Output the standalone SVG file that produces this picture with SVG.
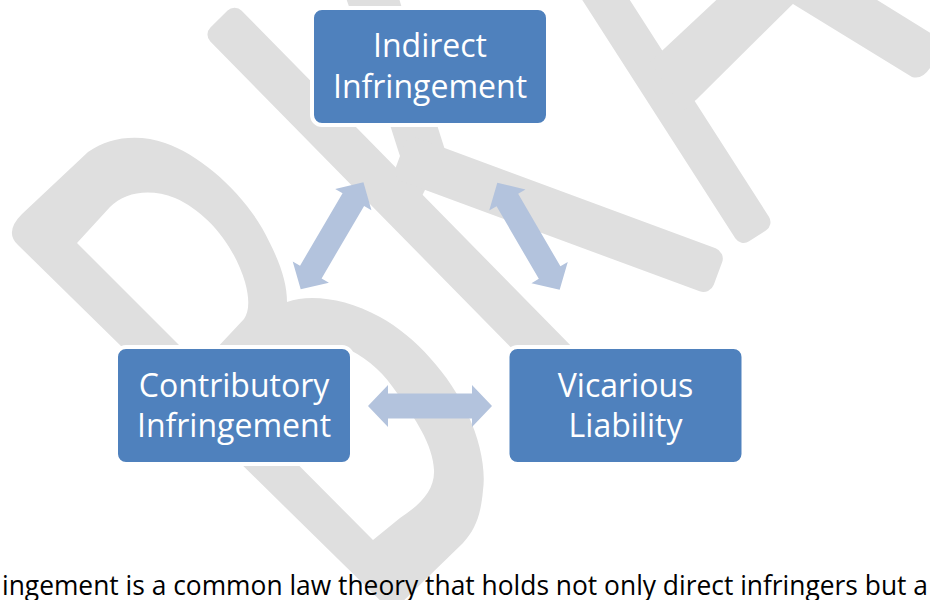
<svg xmlns="http://www.w3.org/2000/svg" xmlns:xlink="http://www.w3.org/1999/xlink" width="930" height="600" viewBox="0 0 930 600">
  <style>
    .wm { fill: #DFDFDF; }
    .box { fill: #4F81BD; stroke: #FFFFFF; stroke-width: 4; }
    .lbl { font-family: "Open Sans", "Liberation Sans", sans-serif; font-size: 32px; fill: #FFFFFF; text-anchor: middle; }
    .arrow { fill: #B3C3DD; }
    .body { font-family: "Open Sans", "Liberation Sans", sans-serif; font-size: 27px; fill: #000000; }
  </style>
  <defs>
    <path id="dbl" d="M0,0 L20,-21 L20,-12.5 L104,-12.5 L104,-21 L124,0 L104,21 L104,12.5 L20,12.5 L20,21 Z"/>
  </defs>
  <rect width="930" height="600" fill="#FFFFFF"/>

  <g id="watermark">
    <!-- B -->
    <path class="wm" fill-rule="evenodd" d="M22,214 L88,152 C110,136 140,134 165,143 C200,155 240,190 262,228 C278,257 287,280 287,302 C310,294 345,298 380,317 C415,336 450,375 468,415 C480,440 486,470 483,490 C481,515 475,530 463,543 L392,612 L18,245 Q4,232 22,214 Z
      M77,243 L110,207 C125,192 150,188 175,198 C207,212 234,245 245,282 C250,300 249,312 244,319 L200,366 Z
      M231,397 L350,350 C370,360 385,375 397,393 C415,418 433,445 434,470 C435,490 420,505 400,518 L373,540 Z"/>
    <!-- K -->
    <rect class="wm" x="0" y="-22" width="489" height="44" rx="10" transform="translate(219,19) rotate(45.5)"/>
    <polygon class="wm" points="345,-5 398,-5 438,128 445,150 420,200 408,180 398,150 391,128"/>
    <rect class="wm" x="0" y="-23" width="339" height="46" rx="11" transform="translate(400,156) rotate(20.3)"/>
    <!-- third letter -->
    <rect class="wm" x="0" y="-20" width="310" height="40" rx="10" transform="translate(590,-25) rotate(57.3)"/>
    <polygon class="wm" points="650,62 727,-10 807,-10 697,99 684,110"/>
    <path class="wm" d="M790,-10 L861,-10 L940,39 L940,62 L930,68 Q922,80 912,77 L793,4 Z"/>
  </g>

  <g id="connectors">
    <use xlink:href="#dbl" href="#dbl" class="arrow" transform="translate(300.7,289.3) rotate(-59.6)"/>
    <use xlink:href="#dbl" href="#dbl" class="arrow" transform="translate(497.3,182.7) rotate(59.8)"/>
    <use xlink:href="#dbl" href="#dbl" class="arrow" transform="translate(368,406)"/>
  </g>

  <g id="node-indirect">
    <rect class="box" x="312" y="8" width="236" height="117" rx="10"/>
    <text class="lbl" x="430" y="57">Indirect</text>
    <text class="lbl" x="430" y="98">Infringement</text>
  </g>
  <g id="node-contributory">
    <rect class="box" x="116" y="347" width="236" height="117" rx="10"/>
    <text class="lbl" x="234" y="397">Contributory</text>
    <text class="lbl" x="234" y="437">Infringement</text>
  </g>
  <g id="node-vicarious">
    <rect class="box" x="507.5" y="347" width="236" height="117" rx="10"/>
    <text class="lbl" x="625.5" y="397">Vicarious</text>
    <text class="lbl" x="625.5" y="437">Liability</text>
  </g>

  <text class="body" x="2" y="595" textLength="926" lengthAdjust="spacingAndGlyphs">ingement is a common law theory that holds not only direct infringers but a</text>
</svg>
